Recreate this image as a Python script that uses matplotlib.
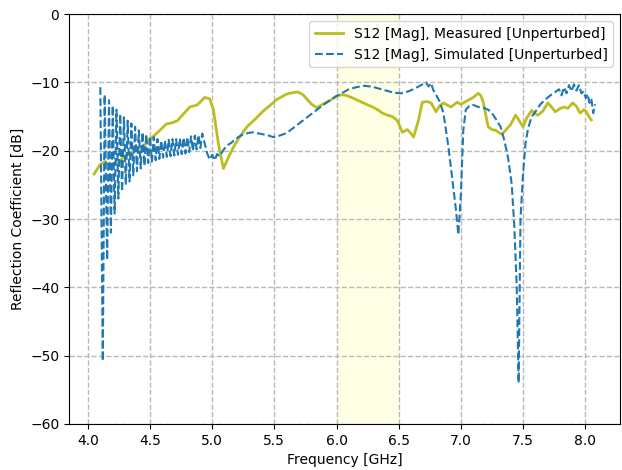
import matplotlib
matplotlib.use('Agg')
import matplotlib.pyplot as plt
import numpy as np

# measured S12 magnitude (dB) vs frequency (GHz)
f_meas = [4.05, 4.10, 4.14, 4.18, 4.22, 4.26, 4.32, 4.38, 4.45, 4.52, 4.58,
          4.63, 4.68, 4.72, 4.77, 4.82, 4.88, 4.94, 4.98, 5.01, 5.05, 5.09,
          5.13, 5.17, 5.22, 5.28, 5.35, 5.41, 5.47, 5.52, 5.56, 5.60, 5.65,
          5.69, 5.73, 5.76, 5.80, 5.84, 5.88, 5.92, 5.96, 6.00, 6.04, 6.08,
          6.12, 6.18, 6.24, 6.29, 6.33, 6.37, 6.41, 6.45, 6.49, 6.53, 6.57,
          6.60, 6.62, 6.66, 6.69, 6.73, 6.76, 6.78, 6.80, 6.83, 6.86, 6.89,
          6.92, 6.95, 6.97, 7.00, 7.02, 7.06, 7.10, 7.14, 7.16, 7.18, 7.22,
          7.25, 7.28, 7.31, 7.33, 7.36, 7.40, 7.44, 7.47, 7.50, 7.53, 7.57,
          7.60, 7.62, 7.66, 7.70, 7.73, 7.76, 7.80, 7.83, 7.86, 7.90, 7.93,
          7.96, 7.99, 8.01, 8.03, 8.05]
s_meas = [-23.4, -22.0, -21.6, -22.2, -22.0, -21.4, -20.5, -20.0, -19.2, -18.0, -17.0,
          -16.1, -15.9, -15.6, -14.6, -13.6, -13.3, -12.2, -12.4, -14.0, -19.0, -22.6,
          -21.0, -19.5, -18.0, -16.5, -15.3, -14.2, -13.3, -12.5, -12.1, -11.7, -11.5,
          -11.4, -11.8, -12.4, -13.2, -13.7, -13.3, -12.9, -12.5, -12.0, -11.8, -11.9,
          -12.2, -12.7, -13.2, -13.6, -14.0, -14.5, -14.8, -15.0, -15.6, -17.3, -16.9,
          -17.5, -18.0, -15.5, -12.9, -12.8, -13.0, -13.6, -14.3, -13.4, -13.0, -13.3,
          -13.6, -13.2, -12.9, -13.2, -13.0, -12.6, -12.2, -11.6, -11.9, -12.9, -16.5,
          -16.9, -17.0, -17.4, -17.6, -17.0, -16.2, -14.8, -15.6, -16.5, -15.2, -14.1,
          -14.6, -14.8, -14.2, -13.0, -13.6, -14.3, -13.8, -13.6, -13.8, -13.0, -13.5,
          -14.5, -14.0, -14.3, -15.0, -15.5]

# simulated S12 magnitude (dB) vs frequency (GHz)
f_sim = [4.100, 4.120, 4.135, 4.155, 4.170, 4.185, 4.200, 4.215, 4.230, 4.245,
         4.260, 4.275, 4.290, 4.305, 4.320, 4.335, 4.350, 4.365, 4.380, 4.395,
         4.410, 4.425, 4.440, 4.455, 4.470, 4.485, 4.500, 4.515, 4.530, 4.545,
         4.560, 4.575, 4.590, 4.605, 4.620, 4.635, 4.650, 4.665, 4.680, 4.695,
         4.710, 4.725, 4.740, 4.755, 4.770, 4.785, 4.800, 4.815, 4.830, 4.845,
         4.860, 4.875, 4.890, 4.905, 4.920,
         4.960, 4.980, 5.000, 5.020, 5.040, 5.060, 5.090, 5.120, 5.150, 5.180,
         5.210, 5.250, 5.290, 5.330, 5.380, 5.440, 5.490, 5.540, 5.600, 5.650,
         5.700, 5.750, 5.800, 5.850, 5.900, 5.950, 6.000, 6.050, 6.100, 6.160,
         6.220, 6.280, 6.340, 6.400, 6.460, 6.520, 6.580, 6.630, 6.680, 6.720,
         6.740, 6.760, 6.780, 6.800, 6.830, 6.860, 6.900, 6.930, 6.960, 6.980,
         7.000, 7.020, 7.040, 7.070, 7.100, 7.140, 7.180, 7.220, 7.250, 7.280,
         7.320, 7.350, 7.380, 7.410, 7.430, 7.450, 7.465, 7.480, 7.500, 7.520,
         7.540, 7.570, 7.600, 7.640, 7.680, 7.720, 7.760, 7.790, 7.810, 7.830,
         7.850, 7.870, 7.890, 7.910, 7.930, 7.950, 7.970, 7.990, 8.005, 8.020,
         8.035, 8.050, 8.065, 8.080]
s_sim = [-10.7, -50.8, -11.8, -36.0, -12.6, -32.0, -13.4, -29.2, -14.0, -27.0,
         -14.6, -26.0, -15.1, -25.0, -15.6, -24.5, -16.0, -23.6, -16.5, -23.0,
         -17.0, -22.6, -17.3, -22.2, -17.6, -21.8, -17.9, -21.6, -18.0, -21.4,
         -18.3, -21.2, -18.5, -21.0, -18.5, -20.9, -18.4, -20.8, -18.3, -20.7,
         -18.3, -20.6, -18.2, -20.5, -18.1, -20.4, -18.0, -20.2, -17.9, -20.0,
         -17.8, -19.8, -17.7, -19.6, -17.5,
         -20.4, -21.3, -20.6, -21.4, -20.5, -20.8, -19.9, -19.2, -18.9, -18.4,
         -18.0, -17.6, -17.4, -17.3, -17.5, -17.7, -18.0, -17.8, -17.4, -16.7,
         -16.0, -15.3, -14.6, -13.9, -13.2, -12.6, -12.0, -11.5, -11.0, -10.7,
         -10.5, -10.6, -10.9, -11.2, -11.5, -11.6, -11.3, -10.9, -10.4, -10.0,
         -10.6, -10.1, -11.2, -11.8, -12.8, -14.5, -19.4, -24.0, -28.5, -32.3,
         -26.5, -17.0, -14.0, -13.4, -13.3, -13.6, -13.7, -14.0, -14.5, -15.3,
         -16.5, -18.5, -21.0, -25.0, -31.0, -40.0, -54.0, -30.0, -23.5, -19.0,
         -16.8, -15.0, -14.3, -13.2, -12.5, -11.9, -11.4, -11.0, -11.9, -10.7,
         -11.6, -10.4, -11.3, -10.3, -11.2, -10.4, -11.6, -11.3, -12.3, -11.7,
         -13.0, -12.4, -14.5, -13.2]

band = (6.0, 6.5)

fig, ax = plt.subplots(figsize=(6.22, 4.70), dpi=100)
fig.subplots_adjust(left=0.111, right=0.997, top=0.970, bottom=0.098)

ax.axvspan(band[0], band[1], color='yellow', alpha=0.1, lw=0)
ax.plot(f_meas, s_meas, color='tab:olive', lw=2,
        label='S12 [Mag], Measured [Unperturbed]')
ax.plot(f_sim, s_sim, color='tab:blue', lw=1.5, ls='--',
        label='S12 [Mag], Simulated [Unperturbed]')

ax.set_ylim(-60, 0)
ax.set_xticks(np.arange(4.0, 8.01, 0.5))
ax.grid(True, linestyle='--', linewidth=1.0, color='#b8b8b8')
ax.set_xlabel('Frequency [GHz]')
ax.set_ylabel('Reflection Coefficient [dB]')
ax.legend(loc='upper right')

fig.savefig('out.png', dpi=100)
